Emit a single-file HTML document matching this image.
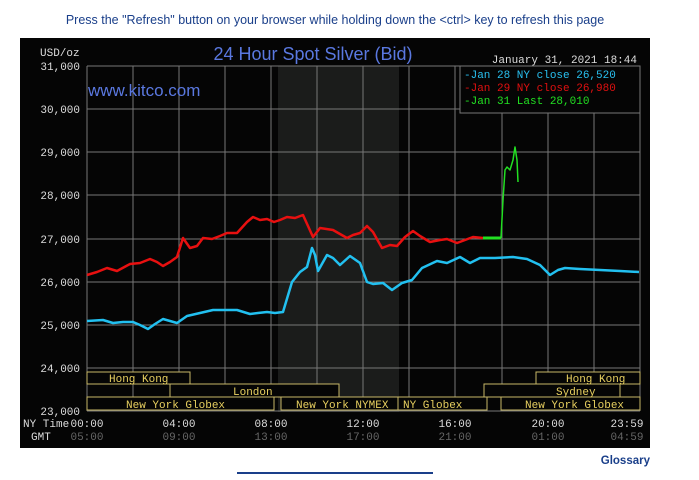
<!DOCTYPE html><html><head><style>body{margin:0;background:#fff;width:699px;height:475px;overflow:hidden;font-family:"Liberation Sans",sans-serif}</style></head><body>
<svg width="699" height="475" xmlns="http://www.w3.org/2000/svg" font-family="Liberation Mono,monospace">
<text x="335" y="24" text-anchor="middle" font-family="Liberation Sans,sans-serif" font-size="12.5" fill="#1a3f8a">Press the "Refresh" button on your browser while holding down the &lt;ctrl&gt; key to refresh this page</text>
<rect x="20" y="38" width="630" height="410" fill="#050505"/>
<rect x="278" y="66" width="121" height="346" fill="#1b1c1b"/>
<g stroke="#777" stroke-width="1">
<line x1="87" y1="66" x2="640" y2="66"/><line x1="87" y1="109" x2="640" y2="109"/><line x1="87" y1="152" x2="640" y2="152"/><line x1="87" y1="195" x2="640" y2="195"/><line x1="87" y1="239" x2="640" y2="239"/><line x1="87" y1="282" x2="640" y2="282"/><line x1="87" y1="325" x2="640" y2="325"/><line x1="87" y1="368" x2="640" y2="368"/><line x1="87" y1="411" x2="640" y2="411"/>
<line x1="87" y1="66" x2="87" y2="411"/><line x1="133" y1="66" x2="133" y2="411"/><line x1="179" y1="66" x2="179" y2="411"/><line x1="225" y1="66" x2="225" y2="411"/><line x1="271" y1="66" x2="271" y2="411"/><line x1="317" y1="66" x2="317" y2="411"/><line x1="363" y1="66" x2="363" y2="411"/><line x1="409" y1="66" x2="409" y2="411"/><line x1="455" y1="66" x2="455" y2="411"/><line x1="502" y1="66" x2="502" y2="411"/><line x1="548" y1="66" x2="548" y2="411"/><line x1="594" y1="66" x2="594" y2="411"/><line x1="640" y1="66" x2="640" y2="411"/>
</g>
<g font-size="11" fill="#ddd" text-anchor="end">
<text x="80" y="70">31,000</text><text x="80" y="113">30,000</text><text x="80" y="156">29,000</text><text x="80" y="199">28,000</text><text x="80" y="243">27,000</text><text x="80" y="286">26,000</text><text x="80" y="329">25,000</text><text x="80" y="372">24,000</text><text x="80" y="415">23,000</text>
</g>
<text x="40" y="56" font-size="11" fill="#ddd">USD/oz</text>
<text x="313" y="60" text-anchor="middle" font-family="Liberation Sans,sans-serif" font-size="18" fill="#5a78e0">24 Hour Spot Silver (Bid)</text>
<text x="88" y="96" font-family="Liberation Sans,sans-serif" font-size="17" fill="#5a78e0">www.kitco.com</text>
<text x="637" y="63" text-anchor="end" font-size="11" fill="#ddd">January 31, 2021 18:44</text>
<rect x="460" y="66" width="180" height="47" fill="#050505" stroke="#777"/>
<g font-size="11"><text x="464" y="78" fill="#29c0f0">-Jan 28 NY close 26,520</text><text x="464" y="91" fill="#e01010">-Jan 29 NY close 26,980</text><text x="464" y="104" fill="#22e022">-Jan 31 Last 28,010</text></g>
<g fill="none" stroke-linejoin="round">
<polyline stroke="#e81010" stroke-width="2.5" points="87,275 97,272 107,268 117,271 130,264 140,263 150,259 157,262 163,266 170,262 177,257 183,238 190,248 197,246 203,238 212,239 220,236 227,233 237,233 247,222 253,217 260,220 267,219 274,222 280,220 287,217 295,218 303,215 313,237 320,228 333,230 340,234 347,238 353,235 360,233 367,226 373,232 382,248 390,245 397,246 405,237 413,231 420,236 430,242 440,240 447,239 457,243 465,240 473,237 483,238"/>
<polyline stroke="#22e022" stroke-width="3" points="483,238 501,238"/>
<polyline stroke="#22e022" stroke-width="1.5" points="501,238 503,200 505,170 507,167 510,170 513,160 515,147 517,160 518,182"/>
<polyline stroke="#22c0f0" stroke-width="2.5" points="87,321 103,320 113,323 123,322 133,322 140,325 148,329 155,324 163,319 170,321 177,323 187,316 200,313 213,310 225,310 237,310 250,314 258,313 267,312 275,313 283,312 292,282 300,272 307,267 312,248 315,255 318,271 327,255 333,258 340,265 350,256 360,263 367,282 373,284 383,283 392,290 402,283 412,280 422,268 437,261 447,263 460,257 470,263 480,258 495,258 513,257 527,259 540,265 550,275 558,270 565,268 580,269 600,270 620,271 639,272"/>
</g>
<g stroke="#c8b868" fill="#050505" stroke-width="1" font-size="11">
<rect x="87" y="372" width="103" height="12"/><rect x="536" y="372" width="104" height="12"/>
<rect x="170" y="384" width="169" height="13"/><rect x="484" y="384" width="136" height="13"/>
<rect x="87" y="397" width="187" height="13"/><rect x="281" y="397" width="117" height="13"/><rect x="398" y="397" width="89" height="13"/><rect x="501" y="397" width="139" height="13"/>
</g>
<g font-size="11" fill="#e8d060" stroke="none">
<text x="109" y="382">Hong Kong</text><text x="566" y="382">Hong Kong</text>
<text x="233" y="395">London</text><text x="556" y="395">Sydney</text>
<text x="126" y="408">New York Globex</text><text x="296" y="408">New York NYMEX</text><text x="403" y="408">NY Globex</text><text x="525" y="408">New York Globex</text>
</g>
<g font-size="11" fill="#ddd"><text x="23" y="427">NY Time</text><text x="31" y="440">GMT</text></g>
<g font-size="11" fill="#ddd" text-anchor="middle"><text x="87" y="427">00:00</text><text x="179" y="427">04:00</text><text x="271" y="427">08:00</text><text x="363" y="427">12:00</text><text x="455" y="427">16:00</text><text x="548" y="427">20:00</text><text x="627" y="427">23:59</text></g>
<g font-size="11" fill="#666" text-anchor="middle"><text x="87" y="440">05:00</text><text x="179" y="440">09:00</text><text x="271" y="440">13:00</text><text x="363" y="440">17:00</text><text x="455" y="440">21:00</text><text x="548" y="440">01:00</text><text x="627" y="440">04:59</text></g>
<text x="650" y="464" text-anchor="end" font-family="Liberation Sans,sans-serif" font-size="11.5" font-weight="bold" fill="#1a3f8a">Glossary</text>
<line x1="237" y1="473" x2="433" y2="473" stroke="#1a3f8a" stroke-width="2"/>
</svg></body></html>
